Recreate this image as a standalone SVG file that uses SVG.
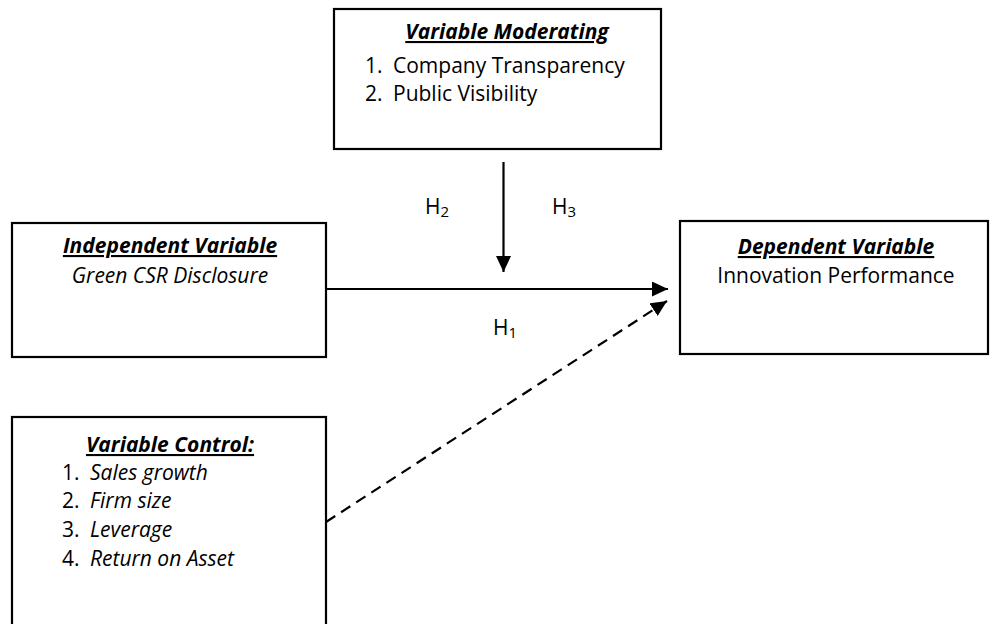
<svg xmlns="http://www.w3.org/2000/svg" width="990" height="624" viewBox="0 0 990 624">
<style>
text{font-family:"Open Sans","Liberation Sans",sans-serif;font-size:21px;fill:#000}
.t{font-weight:bold;font-style:italic;text-decoration:underline}
.i{font-style:italic}
.box{fill:#fff;stroke:#000;stroke-width:2.2}
.ln{stroke:#000;stroke-width:2.2;fill:none}
.sub{font-size:15px}
</style>
<defs>
<marker id="ah2" viewBox="0 0 10 10" refX="10" refY="5" markerWidth="16" markerHeight="15" markerUnits="userSpaceOnUse" orient="auto" preserveAspectRatio="none">
<path d="M0,0 L10,5 L0,10 Z" fill="#000"/>
</marker>
</defs>
<rect width="990" height="624" fill="#fff"/>
<g id="connectors">
<line class="ln" x1="503.5" y1="162" x2="503.5" y2="272" marker-end="url(#ah2)"/>
<line class="ln" x1="326" y1="289" x2="668" y2="289" marker-end="url(#ah2)"/>
<line class="ln" x1="326" y1="522" x2="667" y2="301" stroke-dasharray="11 7" marker-end="url(#ah2)"/>
</g>
<g id="labels">
<text x="425" y="214">H<tspan class="sub" dy="3">2</tspan></text>
<text x="552" y="214">H<tspan class="sub" dy="3">3</tspan></text>
<text x="493" y="335">H<tspan class="sub" dy="3">1</tspan></text>
</g>
<g id="moderating">
<rect class="box" x="334" y="9" width="327" height="140"/>
<text class="t" x="507" y="39" text-anchor="middle">Variable Moderating</text>
<text x="365" y="73">1.</text><text x="393" y="73">Company Transparency</text>
<text x="365" y="101">2.</text><text x="393" y="101">Public Visibility</text>
</g>
<g id="independent">
<rect class="box" x="12" y="223" width="314" height="134"/>
<text class="t" x="170" y="253" text-anchor="middle">Independent Variable</text>
<text class="i" x="170" y="283" text-anchor="middle">Green CSR Disclosure</text>
</g>
<g id="dependent">
<rect class="box" x="680" y="221" width="308" height="133"/>
<text class="t" x="836" y="254" text-anchor="middle">Dependent Variable</text>
<text x="836" y="283" text-anchor="middle">Innovation Performance</text>
</g>
<g id="control">
<rect class="box" x="12" y="417" width="314" height="220"/>
<text class="t" x="170" y="452" text-anchor="middle">Variable Control:</text>
<text x="62" y="480">1.</text><text class="i" x="90" y="480">Sales growth</text>
<text x="62" y="508">2.</text><text class="i" x="90" y="508">Firm size</text>
<text x="62" y="537">3.</text><text class="i" x="90" y="537">Leverage</text>
<text x="62" y="566">4.</text><text class="i" x="90" y="566">Return on Asset</text>
</g>
</svg>
